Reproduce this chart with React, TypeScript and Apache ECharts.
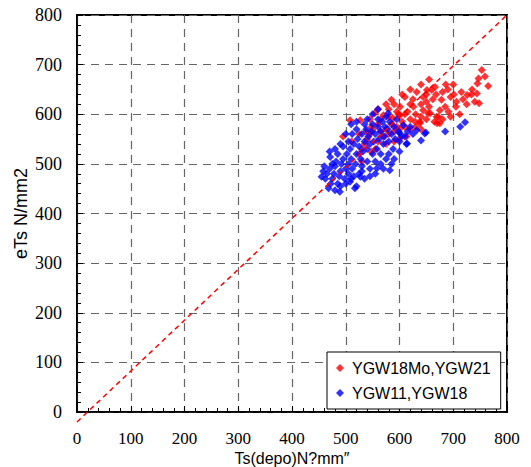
import React, { useEffect, useRef } from "react";
import * as echarts from "echarts";

const xTicks = [0, 100, 200, 300, 400, 500, 600, 700, 800];
const seriesNames = ["YGW18Mo,YGW21", "YGW11,YGW18"];

const redPoints: number[][] = [
  [753, 689], [759, 676], [747, 672], [745, 662], [765, 657], [744, 642], [734, 640], [726, 639],
  [748, 622], [706, 625], [701, 640], [686, 660], [691, 605], [675, 608], [678, 629], [672, 595],
  [670, 582], [660, 649], [666, 655], [651, 649], [644, 635], [632, 645], [610, 635], [585, 629],
  [601, 615], [626, 615], [644, 608], [657, 602], [638, 585], [629, 585], [601, 598], [588, 592],
  [570, 598], [613, 555], [508, 588], [527, 588], [495, 555], [511, 545], [554, 602], [598, 600],
  [620, 620], [615, 605], [630, 600], [640, 620], [650, 625], [655, 615], [662, 630], [668, 640],
  [680, 645], [690, 650], [695, 635], [705, 615], [712, 600], [680, 590], [665, 585], [650, 590],
  [640, 595], [620, 590], [605, 585], [595, 575], [585, 580], [575, 570], [565, 565], [560, 580],
  [550, 570], [545, 560], [540, 550], [535, 540], [530, 530], [525, 520], [560, 545], [570, 555],
  [580, 560], [590, 565], [600, 570], [610, 575], [620, 570], [630, 575], [640, 570], [600, 550],
  [590, 545], [575, 540], [555, 530], [548, 524], [530, 505], [525, 560], [545, 590], [565, 590],
  [580, 610], [590, 620], [605, 640], [620, 650], [640, 660], [655, 670], [610, 600], [625, 630],
  [700, 660], [715, 645], [735, 650], [740, 625], [725, 620], [718, 630], [685, 615], [695, 595],
  [650, 640], [575, 620], [560, 610], [548, 575], [538, 565], [580, 595], [595, 605], [675, 582],
  [669, 595], [653, 602], [638, 582]
];

const bluePoints: number[][] = [
  [722, 584], [713, 575], [685, 565], [649, 563], [640, 547], [632, 568], [620, 575], [613, 540],
  [579, 602], [607, 578], [573, 575], [471, 514], [455, 474], [480, 447], [468, 451], [489, 444],
  [517, 451], [558, 491], [582, 487], [527, 474], [508, 464], [647, 561], [614, 541],
  [462, 470], [465, 480], [470, 490], [472, 460], [475, 470], [478, 480], [480, 495], [482, 505],
  [485, 460], [488, 475], [490, 485], [492, 500], [495, 510], [498, 470], [500, 490], [502, 520],
  [505, 480], [505, 500], [508, 530], [510, 510], [512, 490], [515, 540], [515, 475], [518, 500],
  [520, 520], [522, 550], [525, 480], [525, 535], [528, 510], [530, 560], [530, 495], [532, 525],
  [535, 545], [538, 570], [540, 505], [540, 530], [542, 555], [545, 490], [545, 540], [548, 565],
  [550, 520], [550, 580], [552, 545], [555, 505], [555, 560], [558, 530], [560, 575], [560, 590],
  [562, 550], [565, 520], [565, 565], [568, 585], [570, 540], [572, 555], [575, 595], [575, 510],
  [578, 570], [580, 545], [582, 585], [585, 560], [588, 530], [590, 575], [592, 550], [595, 590],
  [598, 565], [600, 545], [485, 520], [475, 500], [495, 535], [505, 545], [512, 560], [520, 570],
  [490, 455], [500, 460], [510, 470], [520, 455], [535, 470], [545, 475], [530, 485], [555, 480],
  [565, 500], [570, 490], [580, 520], [590, 510], [585, 500], [600, 525], [610, 555], [615, 565],
  [625, 560], [560, 610], [550, 600], [540, 590], [535, 580], [520, 585], [510, 580], [500, 560],
  [490, 540], [480, 530], [470, 525], [460, 495], [458, 485], [604, 556], [600, 562]
];

const refLine: number[][] = [[0, -20], [800, 800]];

export default function App() {
  const ref = useRef<HTMLDivElement>(null);
  useEffect(() => {
    if (!ref.current) return;
    const chart = echarts.init(ref.current, null, { renderer: "svg" });
    const serif = "Liberation Serif";
    const sans = "Liberation Sans";
    const axisCommon = {
      type: "value" as const,
      min: 0,
      max: 800,
      interval: 100,
      axisLine: { show: true, lineStyle: { color: "#000", width: 1.5 } },
      axisTick: { show: true, inside: true, length: 6, lineStyle: { color: "#000" } },
      minorTick: { show: true, splitNumber: 5, length: 4, lineStyle: { color: "#000" } },
      splitLine: { show: true, lineStyle: { color: "#666", width: 1.2, type: [8, 6] as any } },
      nameLocation: "middle" as const,
      nameMoveOverlap: false,
    };
    const labelStyle = { color: "#000", fontFamily: serif, fontSize: 18 };
    const nameStyle = { color: "#000", fontFamily: sans, fontSize: 16 };
    chart.setOption({
      animation: false,
      backgroundColor: "#fff",
      grid: {
        left: 77, right: 24, top: 15, bottom: 55,
        show: true, borderColor: "#000", borderWidth: 2,
        containLabel: false, outerBoundsMode: "none",
      },
      xAxis: {
        ...axisCommon,
        name: "Ts(depo)N?mm″",
        nameGap: 38,
        nameTextStyle: nameStyle,
        axisLabel: { ...labelStyle, fontSize: 17, margin: 18, formatter: (v: number) => (xTicks.includes(v) ? String(v) : "") },
      },
      yAxis: {
        ...axisCommon,
        name: "eTs N/mm2",
        nameGap: 47,
        nameTextStyle: { ...nameStyle, fontSize: 18 },
        axisLabel: { ...labelStyle, margin: 15 },
      },
      legend: {
        orient: "vertical",
        left: 327,
        top: 352,
        padding: [8, 10, 8, 9],
        itemGap: 9,
        itemWidth: 8,
        itemHeight: 8,
        backgroundColor: "#fff",
        borderColor: "#000",
        borderWidth: 1,
        borderRadius: 0,
        textStyle: { color: "#000", fontFamily: sans, fontSize: 16, padding: [0, 0, 0, 3] },
        data: [
          { name: seriesNames[0], icon: "diamond" },
          { name: seriesNames[1], icon: "diamond" },
        ],
      },
      series: [
        {
          name: seriesNames[0],
          type: "scatter",
          symbol: "diamond",
          symbolSize: 8,
          itemStyle: { color: "#ff0000" },
          data: redPoints,
          z: 3,
        },
        {
          name: seriesNames[1],
          type: "scatter",
          symbol: "diamond",
          symbolSize: 8,
          itemStyle: { color: "#0000ff" },
          data: bluePoints,
          z: 4,
        },
        {
          name: "ref",
          type: "line",
          data: refLine,
          symbol: "none",
          clip: false,
          silent: true,
          lineStyle: { color: "#ff0000", width: 1.5, type: [5, 4] as any },
          z: 5,
        },
      ],
    });
    return () => chart.dispose();
  }, []);
  return <div ref={ref} style={{ position: "fixed", left: 0, top: 0, width: 531, height: 467 }} />;
}
